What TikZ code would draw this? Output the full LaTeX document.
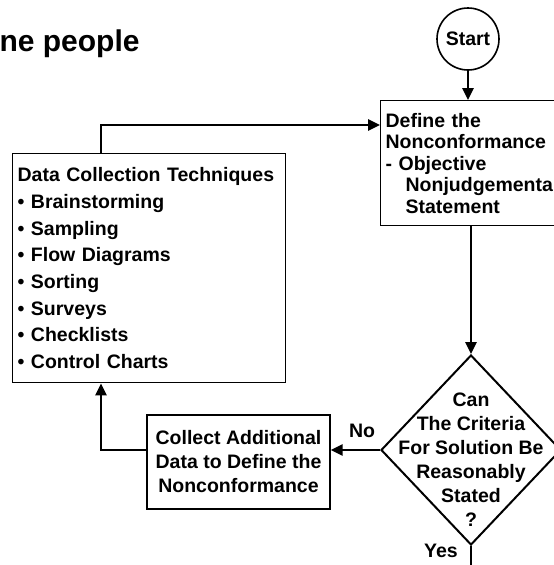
\documentclass[tikz,border=0pt]{standalone}
\usepackage{fontspec}
\setmainfont{Liberation Sans}
\usetikzlibrary{shapes.geometric,arrows.meta,positioning}

\begin{document}
\begin{tikzpicture}[x=1pt,y=1pt,yscale=-1,xscale=1,
  every node/.style={font=\bfseries\fontsize{19.5}{24}\selectfont},
  flowbox/.style={draw,line width=1.3pt,inner sep=5pt},
  flowline/.style={line width=2.6pt},
  flowarrow/.style={line width=2.6pt,-{Triangle[length=12pt,width=11pt]}}]
\useasboundingbox (0,0) rectangle (554,565);

% Title (cut at the left)
\node[anchor=base west,font=\bfseries\fontsize{30}{34}\selectfont] (title) at (-4,51) {ne people};

% Start
\node[circle,draw,line width=1.6pt,minimum size=62pt,inner sep=0pt] (start) at (468,39) {Start};

% Text Node
\node[flowbox,anchor=north west,text width=180pt,minimum height=125pt,align=left,
  font=\bfseries\fontsize{19.5}{21.5}\selectfont] (define) at (380,100)
  {Define the\\ Nonconformance\\ - Objective\\ \hspace*{20pt}Nonjudgemental\\ \hspace*{20pt}Statement};

% Text Node
\node[flowbox,anchor=north west,text width=263pt,minimum height=229pt,align=left,
  font=\bfseries\fontsize{19.5}{26.7}\selectfont] (data) at (12,153)
  {Data Collection Techniques\\ \textbullet\ Brainstorming\\ \textbullet\ Sampling\\ \textbullet\ Flow Diagrams\\
   \textbullet\ Sorting\\ \textbullet\ Surveys\\ \textbullet\ Checklists\\ \textbullet\ Control Charts};

% Decision
\node[diamond,draw,line width=2pt,minimum width=180pt,minimum height=190pt,inner sep=0pt] (crit) at (471,450) {};
\node[align=center] (crittext) at (471,460) {Can\\ The Criteria\\ For Solution Be\\ Reasonably\\ Stated\\ ?};

% Text Node
\node[flowbox,minimum width=183pt,minimum height=94pt,align=center] (collect) at (238.5,462)
  {Collect Additional\\ Data to Define the\\ Nonconformance};

\node (no) at (362,431) {No};
\node (yes) at (441,551) {Yes};

\coordinate (loopt) at (101,125);
\coordinate (loopl) at (101,450);
\coordinate (yesend) at (471,575);

%Straight Lines
\draw[flowarrow] (start.south) -- (start.south |- define.north);
\draw[flowarrow] (define.south -| crit.north) -- (crit.north);
\draw[flowarrow] (crit.west) -- (crit.west -| collect.east);
\draw[flowarrow] (collect.west |- loopl) -- (loopl) -- (loopl |- data.south);
\draw[flowarrow] (loopt |- data.north) -- (loopt) -- (loopt -| define.west);
\draw[flowline] (crit.south) -- (yesend);

\end{tikzpicture}
\end{document}
